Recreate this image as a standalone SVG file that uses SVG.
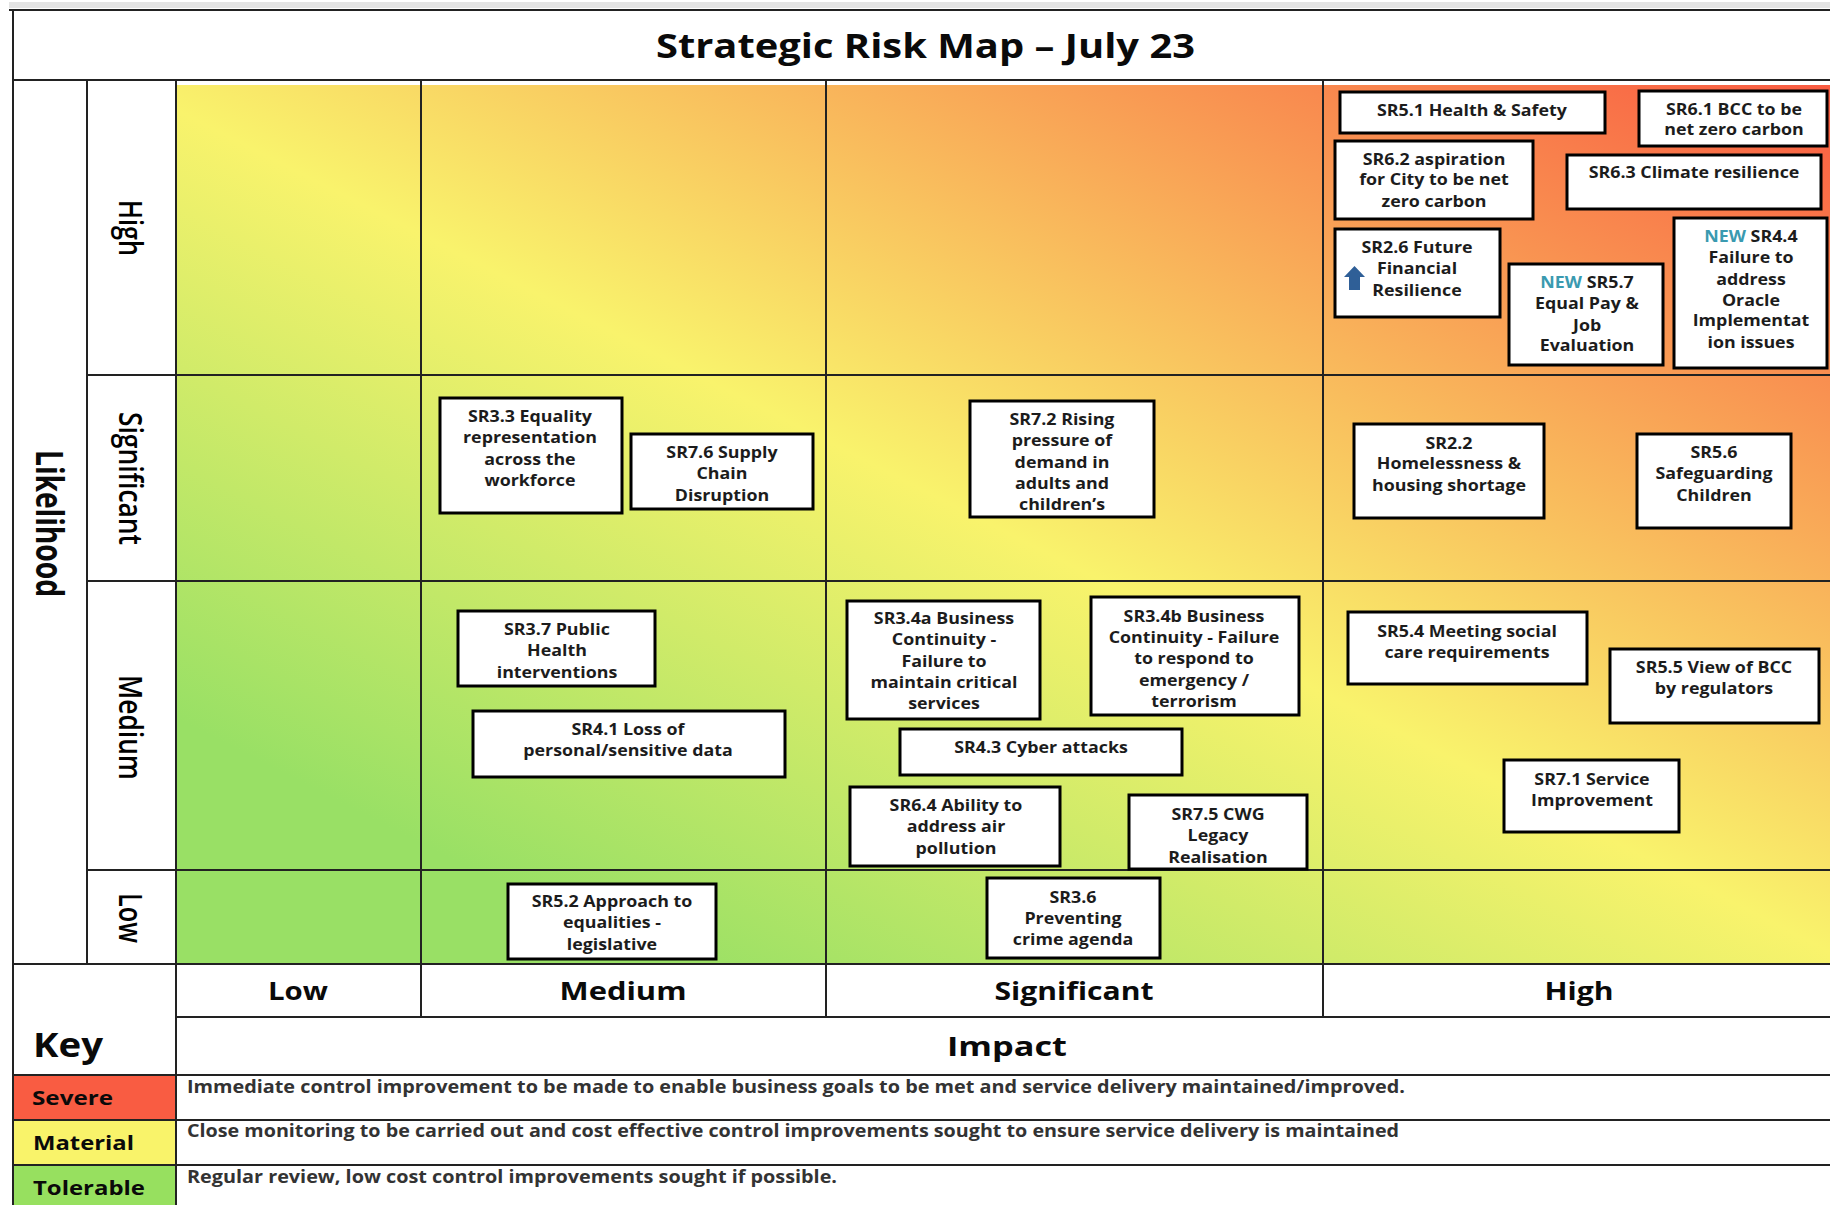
<svg xmlns="http://www.w3.org/2000/svg" width="1830" height="1205" viewBox="0 0 1830 1205">
<style>
.n{fill:#fff;stroke:#000;stroke-width:3}
.t{font-family:"Open Sans","Liberation Sans",sans-serif;font-weight:700;font-size:15.5px;fill:#1c1c1c;text-anchor:middle;transform-box:fill-box;transform-origin:50% 50%;transform:translateY(-1px) scaleX(1.15)}
.g{stroke:#222;stroke-width:2;fill:none}
.h{font-family:"Open Sans","Liberation Sans",sans-serif;font-weight:700;fill:#0a0a0a}
.l{font-size:25px;text-anchor:middle}
.k{font-size:18px;fill:#333}
.r{font-family:"Open Sans","Liberation Sans",sans-serif;font-weight:600;fill:#000}
.new{fill:#3a9ab0}
</style>
<defs>
<linearGradient id="risk" gradientUnits="userSpaceOnUse" x1="546" y1="907" x2="1140" y2="-260">
<stop offset="0" stop-color="#99e065"/>
<stop offset="0.4145" stop-color="#f9f36c"/>
<stop offset="1" stop-color="#f95c42"/>
</linearGradient>
</defs>
<rect x="0" y="0" width="1830" height="1205" fill="#fff"/>
<rect x="9" y="2" width="1821" height="6" fill="#e4e4e4"/>
<rect x="177" y="85" width="1653" height="879" fill="url(#risk)"/>
<rect x="14" y="1075" width="162" height="45" fill="#f95c42"/>
<rect x="14" y="1120" width="162" height="45" fill="#f9f36a"/>
<rect x="14" y="1165" width="162" height="40" fill="#97e05f"/>
<g id="grid" class="g">
<path d="M9 10H1830M13 80H1830M87 375H1830M87 581H1830M87 870H1830M13 964H1830M176 1017H1830M13 1075H1830M13 1120H1830M13 1165H1830"/>
<path d="M13 10V1205M87 80V964M176 80V1205M421 80V1017M826 80V1017M1323 80V1017"/>
</g>
<text class="h" x="656" y="58" font-size="34" textLength="539" lengthAdjust="spacingAndGlyphs">Strategic Risk Map – July 23</text>
<g id="likelihood-axis">
<text class="h" transform="translate(36,450) rotate(90)" font-size="38" textLength="147" lengthAdjust="spacingAndGlyphs">Likelihood</text>
<text class="r" transform="translate(119,200) rotate(90)" font-size="33" textLength="56" lengthAdjust="spacingAndGlyphs">High</text>
<text class="r" transform="translate(119,412) rotate(90)" font-size="33" textLength="133" lengthAdjust="spacingAndGlyphs">Significant</text>
<text class="r" transform="translate(119,675) rotate(90)" font-size="33" textLength="105" lengthAdjust="spacingAndGlyphs">Medium</text>
<text class="r" transform="translate(119,893) rotate(90)" font-size="33" textLength="50" lengthAdjust="spacingAndGlyphs">Low</text>
</g>
<g id="impact-axis">
<text class="h l" x="298" y="1000" textLength="60" lengthAdjust="spacingAndGlyphs">Low</text>
<text class="h l" x="623" y="1000" textLength="127" lengthAdjust="spacingAndGlyphs">Medium</text>
<text class="h l" x="1074" y="1000" textLength="159" lengthAdjust="spacingAndGlyphs">Significant</text>
<text class="h l" x="1579" y="1000" textLength="69" lengthAdjust="spacingAndGlyphs">High</text>
<text class="h l" x="1007" y="1056" style="font-size:27px" textLength="120" lengthAdjust="spacingAndGlyphs">Impact</text>
</g>
<g id="key">
<text class="h" x="33" y="1057" font-size="34" textLength="70" lengthAdjust="spacingAndGlyphs">Key</text>
<text class="h" x="32" y="1105" font-size="20" textLength="81" lengthAdjust="spacingAndGlyphs">Severe</text>
<text class="h" x="33" y="1150" font-size="20" textLength="101" lengthAdjust="spacingAndGlyphs">Material</text>
<text class="h" x="33" y="1195" font-size="20" textLength="112" lengthAdjust="spacingAndGlyphs">Tolerable</text>
<text class="h k" x="187" y="1093" textLength="1218" lengthAdjust="spacingAndGlyphs">Immediate control improvement to be made to enable business goals to be met and service delivery maintained/improved.</text>
<text class="h k" x="187" y="1137" textLength="1212" lengthAdjust="spacingAndGlyphs">Close monitoring to be carried out and cost effective control improvements sought to ensure service delivery is maintained</text>
<text class="h k" x="187" y="1183" textLength="650" lengthAdjust="spacingAndGlyphs">Regular review, low cost control improvements sought if possible.</text>
</g>
<g id="SR5.1"><rect class="n" x="1340" y="92" width="265" height="41"/><text class="t" x="1472" y="117">SR5.1 Health &amp; Safety</text></g>
<g id="SR6.1"><rect class="n" x="1639" y="91" width="188" height="55"/><text class="t" x="1734" y="116">SR6.1 BCC to be</text><text class="t" x="1734" y="136">net zero carbon</text></g>
<g id="SR6.2"><rect class="n" x="1335" y="141" width="198" height="78"/><text class="t" x="1434" y="166">SR6.2 aspiration</text><text class="t" x="1434" y="186">for City to be net</text><text class="t" x="1434" y="208">zero carbon</text></g>
<g id="SR6.3"><rect class="n" x="1567" y="155" width="254" height="54"/><text class="t" x="1694" y="179">SR6.3 Climate resilience</text></g>
<g id="SR2.6"><rect class="n" x="1335" y="229" width="165" height="88"/><text class="t" x="1417" y="254">SR2.6 Future</text><text class="t" x="1417" y="275">Financial</text><text class="t" x="1417" y="297">Resilience</text><polygon points="1354.5,266 1365,277 1360,277 1360,290 1349,290 1349,277 1344,277" fill="#2f5f97"/></g>
<g id="SR5.7"><rect class="n" x="1509" y="264" width="154" height="101"/><text class="t" x="1587" y="289"><tspan class="new">NEW</tspan> SR5.7</text><text class="t" x="1587" y="310">Equal Pay &amp;</text><text class="t" x="1587" y="332">Job</text><text class="t" x="1587" y="352">Evaluation</text></g>
<g id="SR4.4"><rect class="n" x="1674" y="218" width="153" height="150"/><text class="t" x="1751" y="243"><tspan class="new">NEW</tspan> SR4.4</text><text class="t" x="1751" y="264">Failure to</text><text class="t" x="1751" y="286">address</text><text class="t" x="1751" y="307">Oracle</text><text class="t" x="1751" y="327">Implementat</text><text class="t" x="1751" y="349">ion issues</text></g>
<g id="SR3.3"><rect class="n" x="440" y="398" width="182" height="115"/><text class="t" x="530" y="423">SR3.3 Equality</text><text class="t" x="530" y="444">representation</text><text class="t" x="530" y="466">across the</text><text class="t" x="530" y="487">workforce</text></g>
<g id="SR7.6"><rect class="n" x="631" y="434" width="182" height="75"/><text class="t" x="722" y="459">SR7.6 Supply</text><text class="t" x="722" y="480">Chain</text><text class="t" x="722" y="502">Disruption</text></g>
<g id="SR7.2"><rect class="n" x="970" y="401" width="184" height="116"/><text class="t" x="1062" y="426">SR7.2 Rising</text><text class="t" x="1062" y="447">pressure of</text><text class="t" x="1062" y="469">demand in</text><text class="t" x="1062" y="490">adults and</text><text class="t" x="1062" y="511">children’s</text></g>
<g id="SR2.2"><rect class="n" x="1354" y="424" width="190" height="94"/><text class="t" x="1449" y="450">SR2.2</text><text class="t" x="1449" y="470">Homelessness &amp;</text><text class="t" x="1449" y="492">housing shortage</text></g>
<g id="SR5.6"><rect class="n" x="1637" y="434" width="154" height="94"/><text class="t" x="1714" y="459">SR5.6</text><text class="t" x="1714" y="480">Safeguarding</text><text class="t" x="1714" y="502">Children</text></g>
<g id="SR3.7"><rect class="n" x="458" y="611" width="197" height="75"/><text class="t" x="557" y="636">SR3.7 Public</text><text class="t" x="557" y="657">Health</text><text class="t" x="557" y="679">interventions</text></g>
<g id="SR4.1"><rect class="n" x="473" y="711" width="312" height="66"/><text class="t" x="628" y="736">SR4.1 Loss of</text><text class="t" x="628" y="757">personal/sensitive data</text></g>
<g id="SR3.4a"><rect class="n" x="847" y="601" width="193" height="118"/><text class="t" x="944" y="625">SR3.4a Business</text><text class="t" x="944" y="646">Continuity -</text><text class="t" x="944" y="668">Failure to</text><text class="t" x="944" y="689">maintain critical</text><text class="t" x="944" y="710">services</text></g>
<g id="SR3.4b"><rect class="n" x="1091" y="597" width="208" height="118"/><text class="t" x="1194" y="623">SR3.4b Business</text><text class="t" x="1194" y="644">Continuity - Failure</text><text class="t" x="1194" y="665">to respond to</text><text class="t" x="1194" y="687">emergency /</text><text class="t" x="1194" y="708">terrorism</text></g>
<g id="SR4.3"><rect class="n" x="900" y="729" width="282" height="46"/><text class="t" x="1041" y="754">SR4.3 Cyber attacks</text></g>
<g id="SR6.4"><rect class="n" x="850" y="787" width="210" height="79"/><text class="t" x="956" y="812">SR6.4 Ability to</text><text class="t" x="956" y="833">address air</text><text class="t" x="956" y="855">pollution</text></g>
<g id="SR7.5"><rect class="n" x="1129" y="795" width="178" height="74"/><text class="t" x="1218" y="821">SR7.5 CWG</text><text class="t" x="1218" y="842">Legacy</text><text class="t" x="1218" y="864">Realisation</text></g>
<g id="SR5.4"><rect class="n" x="1348" y="612" width="239" height="72"/><text class="t" x="1467" y="638">SR5.4 Meeting social</text><text class="t" x="1467" y="659">care requirements</text></g>
<g id="SR5.5"><rect class="n" x="1610" y="649" width="209" height="74"/><text class="t" x="1714" y="674">SR5.5 View of BCC</text><text class="t" x="1714" y="695">by regulators</text></g>
<g id="SR7.1"><rect class="n" x="1504" y="760" width="175" height="72"/><text class="t" x="1592" y="786">SR7.1 Service</text><text class="t" x="1592" y="807">Improvement</text></g>
<g id="SR5.2"><rect class="n" x="508" y="884" width="208" height="75"/><text class="t" x="612" y="908">SR5.2 Approach to</text><text class="t" x="612" y="929">equalities -</text><text class="t" x="612" y="951">legislative</text></g>
<g id="SR3.6"><rect class="n" x="987" y="878" width="173" height="80"/><text class="t" x="1073" y="904">SR3.6</text><text class="t" x="1073" y="925">Preventing</text><text class="t" x="1073" y="946">crime agenda</text></g>
</svg>
